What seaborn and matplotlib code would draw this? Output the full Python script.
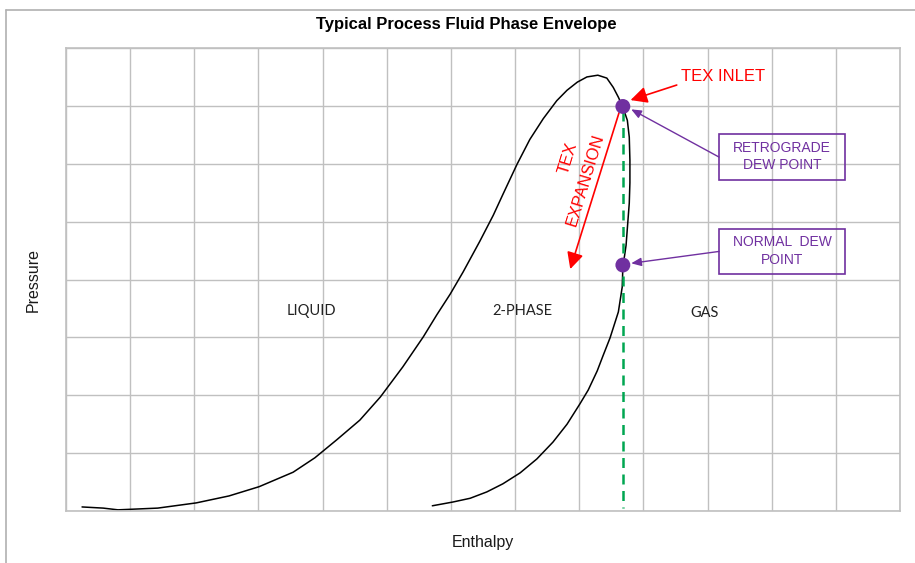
import pandas as pd
import matplotlib.pyplot as plt
import seaborn as sns
from matplotlib.patches import Rectangle

# phase envelope (enthalpy grid units, pressure grid units)
env_h = [0.25, 0.58, 0.81, 1.43, 2.03, 2.54, 3.01, 3.54, 3.88, 4.22, 4.58, 4.90,
         5.25, 5.57, 5.78, 5.99, 6.19, 6.45, 6.66, 6.81, 7.03, 7.23, 7.44, 7.65,
         7.81, 7.97, 8.12, 8.29, 8.43, 8.53, 8.61, 8.68, 8.75, 8.78, 8.79, 8.79,
         8.78, 8.76, 8.73, 8.68, 8.67, 8.61, 8.48, 8.37, 8.28, 8.14, 8.01, 7.81,
         7.59, 7.34, 7.08, 6.81, 6.56, 6.30, 6.03, 5.71]
env_p = [0.07, 0.05, 0.02, 0.05, 0.14, 0.26, 0.42, 0.67, 0.92, 1.23, 1.57, 1.97,
         2.49, 3.01, 3.39, 3.75, 4.13, 4.66, 5.11, 5.47, 5.99, 6.42, 6.78, 7.09,
         7.27, 7.41, 7.50, 7.53, 7.48, 7.32, 7.15, 6.98, 6.75, 6.46, 6.06, 5.67,
         5.32, 5.03, 4.59, 4.21, 3.87, 3.44, 2.99, 2.68, 2.42, 2.09, 1.85, 1.50,
         1.19, 0.90, 0.66, 0.47, 0.33, 0.22, 0.155, 0.09]

# dew points
dew_h = [8.68, 8.68]
dew_p = [6.99, 4.25]
dew_names = ["RETROGRADE\nDEW POINT", "NORMAL  DEW\nPOINT"]

# constant-enthalpy line through the dew points
iso_h = [8.68, 8.68]
iso_p = [6.92, 0.06]

regions = ["LIQUID", "2-PHASE", "GAS"]
region_h = [3.82, 7.11, 9.96]
region_p = [3.45, 3.45, 3.42]

env = pd.DataFrame({"h": env_h, "p": env_p})
dew = pd.DataFrame({"h": dew_h, "p": dew_p})

sns.set_style("white")
plt.rcParams["font.family"] = ["Liberation Sans", "DejaVu Sans"]

fig = plt.figure(figsize=(9.15, 5.63), dpi=100)
ax = fig.add_axes([66 / 915, 1 - 511 / 563, (900 - 66) / 915, (511 - 48) / 563])

sns.lineplot(data=env, x="h", y="p", sort=False, estimator=None, errorbar=None,
             color="black", lw=1.1, ax=ax)
ax.plot(iso_h, iso_p, color="#00a651", lw=1.8, dashes=(4, 2.6))
sns.scatterplot(data=dew, x="h", y="p", color="#7030a0", s=115, edgecolor="none",
                zorder=5, ax=ax)

ax.set_xlim(0, 13)
ax.set_ylim(0, 8)
ax.set_xticks(range(14))
ax.set_yticks(range(9))
ax.tick_params(length=0, labelbottom=False, labelleft=False)
ax.grid(True, color="#c0c0c0", lw=1.0)
for s in ax.spines.values():
    s.set_color("#c0c0c0")
    s.set_linewidth(1.2)

ax.set_xlabel("Enthalpy", fontsize=11.5, labelpad=17, color="#1a1a1a")
ax.set_ylabel("Pressure", fontsize=11.5, labelpad=18, color="#1a1a1a")

for name, h, p in zip(regions, region_h, region_p):
    ax.text(h, p, name, ha="center", va="center", fontsize=10.5,
            family=["Lato", "DejaVu Sans"], color="#222222")

# TEX inlet / expansion (red)
red = "#ff0000"
ax.annotate("", xy=(8.80, 7.10), xytext=(9.52, 7.36),
            arrowprops=dict(arrowstyle="-|>,head_length=1.0,head_width=0.5",
                            color=red, lw=1.2, shrinkA=0, shrinkB=0))
ax.text(10.24, 7.51, "TEX INLET", color=red, fontsize=12, ha="center", va="center")
ax.annotate("", xy=(7.86, 4.18), xytext=(8.62, 6.88),
            arrowprops=dict(arrowstyle="-|>,head_length=1.0,head_width=0.5",
                            color=red, lw=1.2, shrinkA=0, shrinkB=0))
ax.text(7.82, 6.10, "TEX", color=red, fontsize=12, ha="center", va="center",
        rotation=73, rotation_mode="anchor")
ax.text(8.09, 5.72, "EXPANSION", color=red, fontsize=12, ha="center", va="center",
        rotation=73, rotation_mode="anchor")

# dew point call-outs (purple boxes)
purple = "#7030a0"
box_y = [5.72, 4.09]
for name, h, p, by in zip(dew_names, dew_h, dew_p, box_y):
    ax.add_patch(Rectangle((10.18, by), 1.96, 0.79, fill=False, ec=purple, lw=1.2,
                           zorder=4))
    ax.text(11.16, by + 0.40, name, color=purple, fontsize=10, ha="center",
            va="center", linespacing=1.3)
    ax.annotate("", xy=(h + 0.13, p - 0.05 if p > 5 else p + 0.03),
                xytext=(10.18, by + 0.395),
                arrowprops=dict(arrowstyle="-|>,head_length=0.6,head_width=0.25",
                                color=purple, lw=1.0, shrinkA=0, shrinkB=0))

fig.suptitle("Typical Process Fluid Phase Envelope", x=466 / 915, y=1 - 24 / 563,
             va="center", fontsize=12, fontweight="bold", color="black",
             family=["Liberation Sans", "DejaVu Sans"])

# outer chart frame (top and left edges only are visible)
fig.add_artist(plt.Line2D([6 / 915, 1], [1 - 10 / 563] * 2, color="#b0b0b0", lw=1.2))
fig.add_artist(plt.Line2D([6 / 915] * 2, [0, 1 - 10 / 563], color="#b0b0b0", lw=1.2))

fig.savefig("out.png", dpi=100)
